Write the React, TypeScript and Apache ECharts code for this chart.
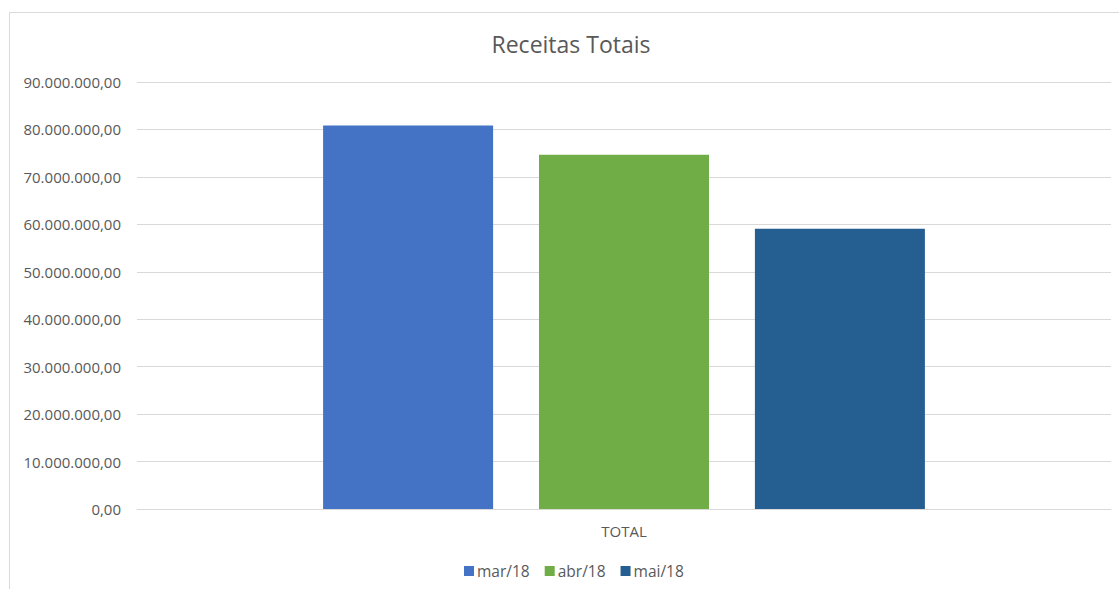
import React, { useEffect, useRef } from "react";
import * as echarts from "echarts";

const categories = ["TOTAL"];
const seriesNames = ["mar/18", "abr/18", "mai/18"];
const seriesValues = [80840000, 74640000, 59070000];
const seriesColors = ["#4472C4", "#70AD47", "#255E91"];

const fmt = (v: number) => {
  const fixed = v.toFixed(2);
  const [intPart, dec] = fixed.split(".");
  const withDots = intPart.replace(/\B(?=(\d{3})+(?!\d))/g, ".");
  return withDots + "," + dec;
};

export default function App() {
  const ref = useRef<HTMLDivElement>(null);
  useEffect(() => {
    if (!ref.current) return;
    const chart = echarts.init(ref.current, null, { renderer: "svg" });
    const font = "'Open Sans', Calibri, sans-serif";
    chart.setOption({
      animation: false,
      backgroundColor: "#ffffff",
      textStyle: { fontFamily: font },
      title: {
        text: "Receitas Totais",
        left: 566,
        textAlign: "center",
        top: 27,
        textStyle: { fontFamily: font, fontSize: 23, fontWeight: "normal", color: "#595959" },
      },
      graphic: [
        {
          type: "rect",
          shape: { x: 9.5, y: 12.5, width: 1200, height: 700 },
          style: { fill: "none", stroke: "#d9d9d9", lineWidth: 1 },
          silent: true,
        },
      ],
      legend: {
        data: seriesNames,
        left: 459,
        top: 558,
        itemWidth: 10,
        itemHeight: 10,
        itemGap: 15,
        icon: "rect",
        textStyle: { fontFamily: font, fontSize: 15.5, color: "#595959", padding: [0, 0, 0, -2] },
      },
      grid: { left: 137, right: 8, top: 82, bottom: 80, containLabel: false },
      xAxis: {
        type: "category",
        data: categories,
        axisLine: { show: true, lineStyle: { color: "#d9d9d9", width: 1 } },
        axisTick: { show: false },
        axisLabel: { fontFamily: font, fontSize: 15, color: "#595959", margin: 14 },
      },
      yAxis: {
        type: "value",
        min: 0,
        max: 90000000,
        interval: 10000000,
        axisLine: { show: false },
        axisTick: { show: false },
        splitLine: { lineStyle: { color: "#d9d9d9", width: 1 } },
        axisLabel: {
          fontFamily: font,
          fontSize: 15,
          color: "#595959",
          margin: 16,
          formatter: (v: number) => fmt(v),
        },
      },
      series: seriesNames.map((name, i) => ({
        name,
        type: "bar",
        barWidth: 170,
        barGap: "27%",
        itemStyle: { color: seriesColors[i] },
        data: [seriesValues[i]],
      })),
    });
    return () => chart.dispose();
  }, []);
  return (
    <div
      ref={ref}
      style={{ position: "fixed", left: 0, top: 0, width: 1119, height: 589 }}
    />
  );
}
